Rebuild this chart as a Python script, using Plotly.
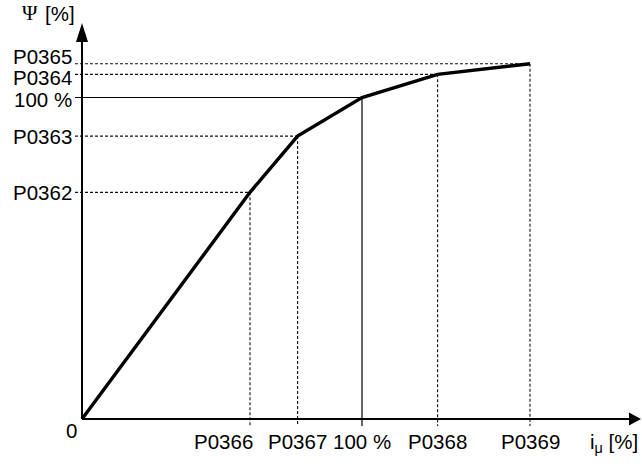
import plotly.graph_objects as go

# Magnetising characteristic: break points of the flux curve
# magnetising current break points [% of rated] and parameter names
i_mu_pts = [60, 77, 100, 127, 160]
i_mu_labels = ["P0366", "P0367", "100 %", "P0368", "P0369"]
# flux break points [% of rated] and parameter names
psi_pts = [70.5, 88, 100, 107.2, 110.5]
psi_labels = ["P0362", "P0363", "100 %", "P0364", "P0365"]

# ---- layout geometry (pixels) ----
W, H = 642, 466
X0_PX, Y0_PX = 82, 419          # origin position on the page
X_SCALE, Y_SCALE = 2.8, 3.215   # pixels per percent
TICK = 7                        # guide lines overhang past the axes
X_TIP_PX, Y_TIP_PX = 641, 23    # arrow tips
FONT = dict(family="Liberation Sans, Arial, sans-serif", size=20.5, color="black")
SERIF = dict(family="Liberation Serif, Times New Roman, serif", size=21, color="black")

x_range = [-X0_PX / X_SCALE, (W - X0_PX) / X_SCALE]
y_range = [-(H - Y0_PX) / Y_SCALE, Y0_PX / Y_SCALE]
tick_x = TICK / X_SCALE
tick_y = TICK / Y_SCALE
x_tip = (X_TIP_PX - X0_PX) / X_SCALE
y_tip = (Y0_PX - Y_TIP_PX) / Y_SCALE
ARROW_LEN, ARROW_HALF = 12, 6.5
ARROW_LEN_Y, ARROW_HALF_Y = 19, 6

fig = go.Figure()

# dashed (or solid for 100 %) projection lines to both axes
for xi, yi, lab in zip(i_mu_pts, psi_pts, i_mu_labels):
    if lab == "100 %":
        style = dict(color="black", width=1.2, dash="solid")
    else:
        style = dict(color="#111", width=1.1, dash="3px,2px")
    fig.add_trace(go.Scatter(x=[-tick_x, xi], y=[yi, yi], mode="lines",
                             line=style, hoverinfo="skip"))
    fig.add_trace(go.Scatter(x=[xi, xi], y=[yi, -tick_y], mode="lines",
                             line=style, hoverinfo="skip"))

# the characteristic itself
fig.add_trace(go.Scatter(x=[0] + i_mu_pts, y=[0] + psi_pts, mode="lines",
                         line=dict(color="black", width=3.4), hoverinfo="skip"))

shapes = [
    # x axis
    dict(type="line", xref="x", yref="y", x0=0, y0=0,
         x1=x_tip - ARROW_LEN / X_SCALE, y1=0,
         line=dict(color="black", width=2)),
    dict(type="path", xref="x", yref="y", xsizemode="pixel", ysizemode="pixel",
         xanchor=x_tip, yanchor=0,
         path=f"M0,0 L{-ARROW_LEN},{ARROW_HALF} L{-ARROW_LEN},{-ARROW_HALF} Z",
         fillcolor="black", line=dict(width=0)),
    # y axis
    dict(type="line", xref="x", yref="y", x0=0, y0=0, x1=0,
         y1=y_tip - ARROW_LEN_Y / Y_SCALE,
         line=dict(color="black", width=2)),
    dict(type="path", xref="x", yref="y", xsizemode="pixel", ysizemode="pixel",
         xanchor=0, yanchor=y_tip,
         path=f"M0,0 L{-ARROW_HALF_Y},{-ARROW_LEN_Y} L{ARROW_HALF_Y},{-ARROW_LEN_Y} Z",
         fillcolor="black", line=dict(width=0)),
]

annotations = []
# flux labels on the left
y_label_shift = {"P0365": 7, "P0364": -3, "100 %": -2}
for yi, lab in zip(psi_pts, psi_labels):
    annotations.append(dict(x=-tick_x, y=yi, xref="x", yref="y", text=lab,
                            showarrow=False, xanchor="right", yanchor="middle",
                            xshift=-1, yshift=y_label_shift.get(lab, 0), font=FONT))
# current labels below
x_label_shift = {"P0366": -27}
for xi, lab in zip(i_mu_pts, i_mu_labels):
    annotations.append(dict(x=xi, y=0, xref="x", yref="y", text=lab,
                            showarrow=False, xanchor="center", yanchor="middle",
                            xshift=x_label_shift.get(lab, 0), yshift=-22, font=FONT))
# origin and axis titles
annotations += [
    dict(x=0, y=0, xref="x", yref="y", text="0", showarrow=False,
         xanchor="center", yanchor="middle", xshift=-11, yshift=-11, font=FONT),
    dict(x=0, y=y_tip, xref="x", yref="y", text="Ψ",
         showarrow=False, xanchor="center", yanchor="middle",
         xshift=-52, yshift=10, font=SERIF),
    dict(x=0, y=y_tip, xref="x", yref="y", text="[%]",
         showarrow=False, xanchor="center", yanchor="middle",
         xshift=-22, yshift=10, font=FONT),
    dict(x=x_tip, y=0, xref="x", yref="y", text="i<sub>μ</sub> [%]",
         showarrow=False, xanchor="center", yanchor="middle",
         xshift=-27, yshift=-24, font=FONT),
]

fig.update_layout(
    width=W, height=H,
    margin=dict(l=0, r=0, t=0, b=0),
    paper_bgcolor="white", plot_bgcolor="white",
    showlegend=False,
    xaxis=dict(range=x_range, visible=False, fixedrange=True),
    yaxis=dict(range=y_range, visible=False, fixedrange=True),
    shapes=shapes, annotations=annotations,
)

fig.write_html("out.html")
